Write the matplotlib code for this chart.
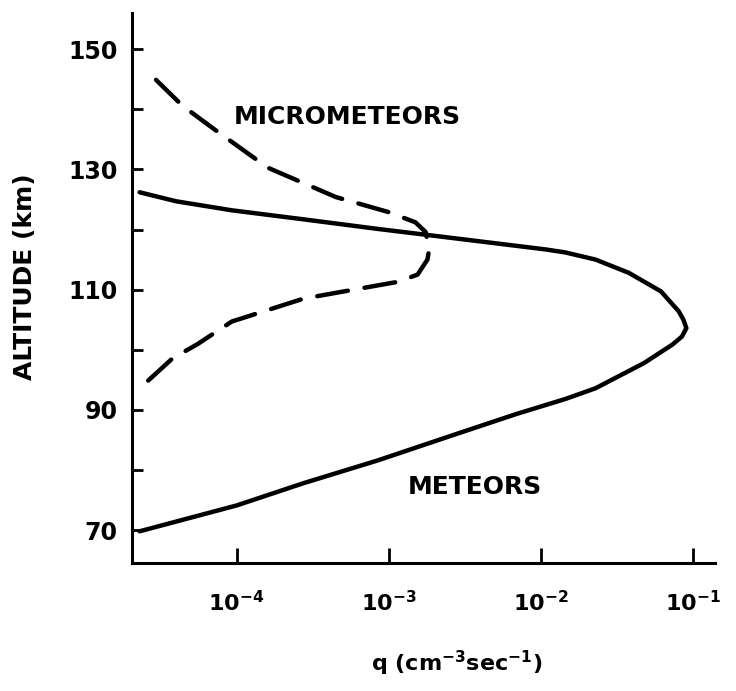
import numpy as np
import matplotlib
matplotlib.use("Agg")
import matplotlib.pyplot as plt

plt.rcParams['font.family'] = ['DejaVu Sans']
plt.rcParams['mathtext.default'] = 'regular'

# meteor ionization rate, traced from the bottom up around the peak and back
meteor_q = [2.3e-5, 1.0e-4, 2.75e-4, 8.5e-4, 2.8e-3, 6.9e-3, 1.45e-2, 2.3e-2,
            4.8e-2, 7.4e-2, 8.5e-2, 9.1e-2, 8.7e-2, 8.1e-2, 6.2e-2, 3.8e-2,
            2.3e-2, 1.45e-2, 1.07e-2, 5.1e-3, 1.8e-3, 8.5e-4, 2.75e-4,
            9.3e-5, 4.0e-5, 2.3e-5]
meteor_alt = [69.8, 74.1, 77.8, 81.6, 86.0, 89.3, 91.8, 93.6,
              97.8, 100.9, 102.2, 103.6, 105.0, 106.4, 109.7, 112.8,
              115.0, 116.2, 116.7, 117.7, 119.1, 120.1, 121.7,
              123.2, 124.7, 126.2]

# micrometeor ionization rate, from the top end down to the bottom end
micro_q = [2.95e-5, 4.4e-5, 7.2e-5, 1.6e-4, 4.5e-4, 1.0e-3, 1.5e-3, 1.75e-3,
           1.85e-3, 1.8e-3, 1.55e-3, 1.15e-3, 5.9e-4, 2.75e-4, 9.3e-5,
           5.5e-5, 3.8e-5, 2.6e-5]
micro_alt = [144.9, 140.6, 136.6, 130.3, 125.4, 122.9, 121.2, 119.6,
             116.8, 115.0, 112.5, 111.3, 110.0, 108.5, 104.7,
             100.9, 98.6, 94.8]

x_ticks = [1e-4, 1e-3, 1e-2, 1e-1]
x_ticklabels = ['$10^{-4}$', '$10^{-3}$', '$10^{-2}$', '$10^{-1}$']
y_major = [70, 90, 110, 130, 150]
y_minor = [80, 100, 120, 140]

fig = plt.figure(figsize=(7.36, 6.91), dpi=100)
ax = fig.add_axes([0.179, 0.185, 0.792, 0.796])

ax.plot(meteor_q, meteor_alt, color='black', lw=3.2,
        solid_capstyle='round', solid_joinstyle='round')
ax.plot(micro_q, micro_alt, color='black', lw=3.2,
        linestyle=(0, (7, 3.8)), dash_capstyle='round')

ax.set_xscale('log')
ax.set_xlim(10 ** -4.69, 10 ** -0.855)
ax.set_ylim(64.5, 156)

ax.spines['top'].set_visible(False)
ax.spines['right'].set_visible(False)
for side in ('left', 'bottom'):
    ax.spines[side].set_linewidth(2.2)

ax.set_xticks(x_ticks)
ax.set_xticklabels(x_ticklabels)
ax.xaxis.set_minor_locator(matplotlib.ticker.NullLocator())
ax.set_yticks(y_major)
ax.set_yticks(y_minor, minor=True)

ax.tick_params(axis='x', which='major', direction='in', length=11, width=2,
               pad=19, labelsize=16)
ax.tick_params(axis='y', which='both', direction='in', length=8, width=2,
               pad=10, labelsize=17)
for lab in ax.get_xticklabels() + ax.get_yticklabels():
    lab.set_fontweight('bold')

ax.text(10 ** -3.27, 138.7, 'MICROMETEORS', ha='center', va='center',
        fontsize=18, fontweight='bold')
ax.text(10 ** -2.43, 77.1, 'METEORS', ha='center', va='center',
        fontsize=18, fontweight='bold')

ax.set_ylabel('ALTITUDE (km)', fontsize=18, fontweight='bold')
ax.yaxis.set_label_coords(-0.163, 0.52)
ax.set_xlabel('q (cm$^{-3}$sec$^{-1}$)', fontsize=16, fontweight='bold')
ax.xaxis.set_label_coords(0.557, -0.155)

fig.savefig('out.png', dpi=100)
